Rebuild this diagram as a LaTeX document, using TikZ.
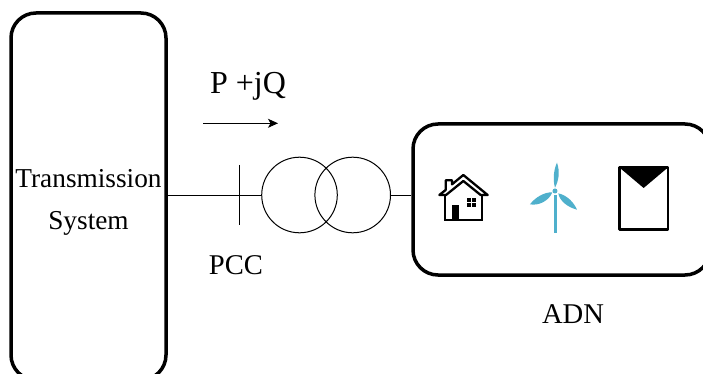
\documentclass[tikz,border=0pt]{standalone}
\usetikzlibrary{arrows.meta}
\usepackage{fontspec}
\setmainfont{Liberation Serif}
\definecolor{turbine}{HTML}{4FB0CC}
\tikzset{
  bigbox/.style={draw,line width=3.5pt,rounded corners=25pt,inner sep=0pt},
  coil/.style={draw,circle,line width=1pt,minimum size=75.6pt,inner sep=0pt},
  wire/.style={line width=1pt},
  lbl/.style={inner sep=0pt,align=center},
  blade/.style={fill=turbine,draw=none},
  iconline/.style={line width=2.3pt,line join=miter}
}
\begin{document}
\begin{tikzpicture}[x=1pt,y=-1pt]
\useasboundingbox (0,0) rectangle (703,374);
\clip (0,0) rectangle (703,374);
\fill[white] (0,0) rectangle (703,374);
% main boxes
\node[bigbox,minimum width=155pt,minimum height=367pt] (ts) at (88.5,196.5) {};
\node[bigbox,minimum width=297pt,minimum height=151pt] (adn) at (561.5,199.5) {};
% transformer
\node[coil] (c1) at (299.5,195) {};
\node[coil] (c2) at (352.7,195) {};
\coordinate (bust) at (239.3,165);
\coordinate (busb) at (239.3,225);
\draw[wire] (ts.east |- c1.west) -- (c1.west);
\draw[wire] (c2.east) -- (adn.west |- c2.east);
\draw[wire] (bust) -- (busb);
% power flow arrow
\coordinate (fa) at (203,123.3);
\coordinate (fb) at (278,123.3);
\draw[wire,-{Stealth[length=10pt,width=9pt,inset=2.5pt]}] (fa) -- (fb);
% labels
\node[lbl,font=\fontsize{27.3pt}{42pt}\selectfont] (tstext) at (88.5,202) {Transmission\\System};
\node[lbl,font=\fontsize{32pt}{36pt}\selectfont,anchor=base] (pq) at (248,94) {P +jQ};
\node[lbl,font=\fontsize{28.6pt}{32pt}\selectfont,anchor=base] (pcc) at (236,274) {PCC};
\node[lbl,font=\fontsize{28.6pt}{32pt}\selectfont,anchor=base] (adntext) at (573,323) {ADN};
% icons, in zoomed coordinates
\begin{scope}[shift={(420,140)},x=0.3333pt,y=-0.3333pt]
  % house
  \draw[iconline] (75,165) -- (75,240) -- (185,240) -- (185,165);
  \draw[iconline,line join=round] (58,165) -- (78,165) -- (130,123) -- (182,165) -- (203,165) -- (130,105) -- (96,133) -- (96,121) -- (77,121) -- (77,150) -- cycle;
  \fill (97,194) rectangle (117,238);
  \fill (140,173) rectangle (152,186);
  \fill (155,173) rectangle (168,186);
  \fill (140,189) rectangle (152,202);
  \fill (155,189) rectangle (168,202);
  % wind turbine
  \fill[turbine] (401,165) rectangle (410,279);
  \fill[turbine] (405,153) circle (7.5);
  \fill[blade] (405,143) .. controls (397,115) and (403,85) .. (411,68) .. controls (420,95) and (417,120) .. cycle;
  \fill[blade] (397,157) .. controls (372,156) and (345,173) .. (330,193) .. controls (357,198) and (387,182) .. cycle;
  \fill[blade] (415,160) .. controls (442,166) and (462,188) .. (471,209) .. controls (443,202) and (418,182) .. cycle;
  % solar panel
  \draw[line width=2.7pt,line join=round] (598,82) rectangle (744,268);
  \fill (600,84) -- (742,84) -- (671,144) -- cycle;
\end{scope}
\end{tikzpicture}
\end{document}
